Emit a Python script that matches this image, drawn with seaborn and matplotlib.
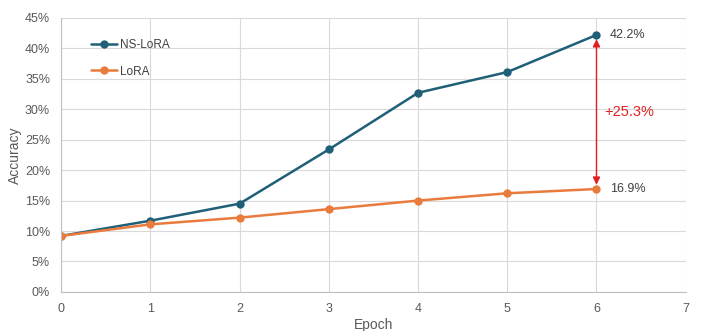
import matplotlib
matplotlib.use('Agg')
import matplotlib.pyplot as plt
import seaborn as sns
import pandas as pd
from matplotlib.ticker import PercentFormatter

epochs = [0, 1, 2, 3, 4, 5, 6]
ns_lora = [9.2, 11.7, 14.5, 23.4, 32.7, 36.1, 42.2]
lora = [9.2, 11.1, 12.2, 13.6, 15.0, 16.2, 16.9]
gain_label = '+25.3%'

df = pd.DataFrame({'Epoch': epochs * 2,
                   'Accuracy': ns_lora + lora,
                   'Method': ['NS-LoRA'] * len(epochs) + ['LoRA'] * len(epochs)})

sns.set_style('white')
plt.rcParams['font.family'] = ['Liberation Sans', 'DejaVu Sans']

fig = plt.figure(figsize=(7.04, 3.31), dpi=100)
ax = fig.add_axes([0.087, 0.118, 0.887, 0.828])

palette = {'NS-LoRA': '#1f5f78', 'LoRA': '#e97b3c'}
sns.lineplot(data=df, x='Epoch', y='Accuracy', hue='Method', palette=palette,
             marker='o', markersize=6, markeredgewidth=0, linewidth=1.8, ax=ax)

ax.set_xlim(0, 7)
ax.set_ylim(0, 45)
ax.set_xticks(range(8))
ax.set_yticks(range(0, 46, 5))
ax.yaxis.set_major_formatter(PercentFormatter(decimals=0))
ax.grid(True, color='#d9d9d9', linewidth=0.8)
for s in ['top', 'right']:
    ax.spines[s].set_visible(False)
for s in ['left', 'bottom']:
    ax.spines[s].set_color('#bfbfbf')
    ax.spines[s].set_linewidth(0.8)
ax.tick_params(colors='#595959', labelsize=9, length=0, pad=8)
ax.set_xlabel('Epoch', color='#595959', fontsize=10, labelpad=2)
ax.set_ylabel('Accuracy', color='#595959', fontsize=10, labelpad=2)

leg = ax.legend(loc='upper left', bbox_to_anchor=(0.03, 0.96), frameon=False,
                fontsize=8.5, labelspacing=1.2, handlelength=2.2, handletextpad=0.3)
for t in leg.get_texts():
    t.set_color('#404040')

ax.text(epochs[-1] + 0.15, ns_lora[-1], f'{ns_lora[-1]}%', va='center',
        fontsize=9, color='#404040')
ax.text(epochs[-1] + 0.15, lora[-1], f'{lora[-1]}%', va='center',
        fontsize=9, color='#404040')
ax.annotate('', xy=(epochs[-1], ns_lora[-1] - 0.7), xytext=(epochs[-1], lora[-1] + 0.7),
            arrowprops=dict(arrowstyle='<|-|>', color='#e02020', lw=1.0,
                            mutation_scale=11, shrinkA=0, shrinkB=0))
ax.text(epochs[-1] + 0.09, (ns_lora[-1] + lora[-1]) / 2, gain_label,
        va='center', fontsize=10.5, color='#e02020')

fig.savefig('out.png', dpi=100)
